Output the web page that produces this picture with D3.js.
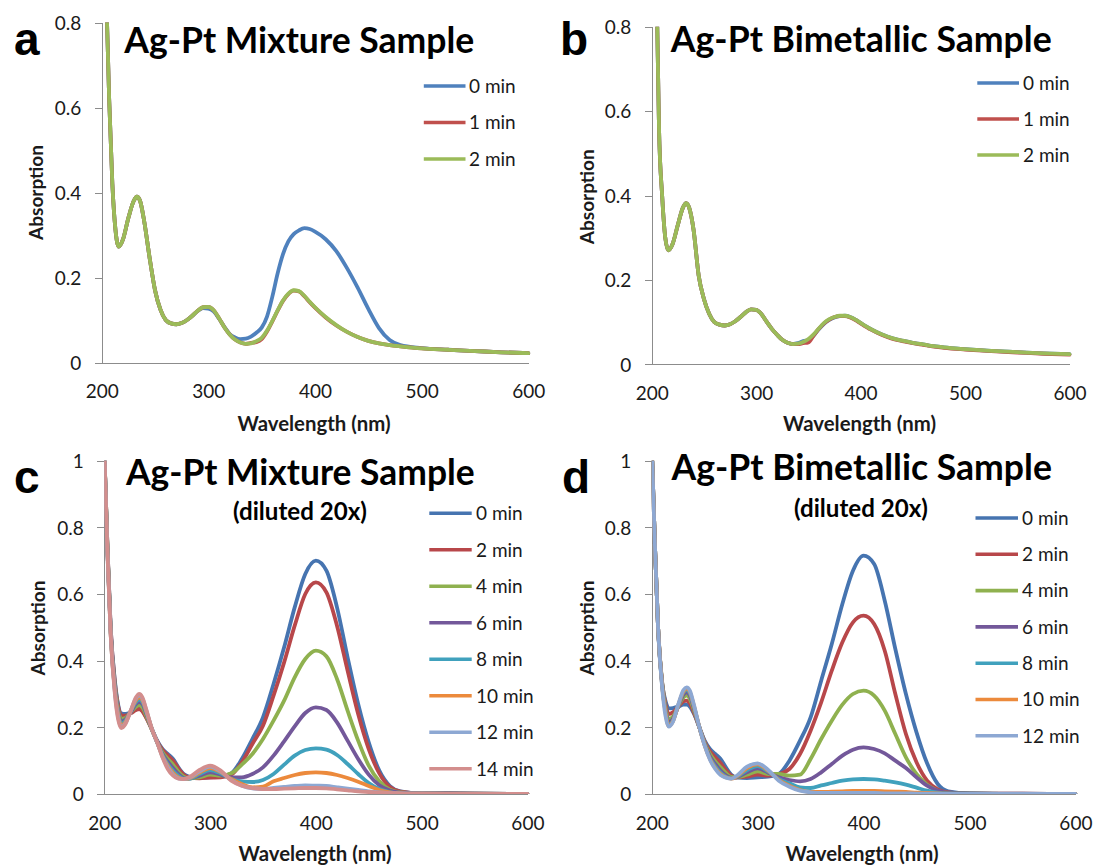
<!DOCTYPE html>
<html>
<head>
<meta charset="utf-8">
<script src="https://cdn.jsdelivr.net/npm/d3@7"></script>
<style>
  html, body { margin: 0; padding: 0; background: #ffffff; }
  svg { display: block; }
</style>
</head>
<body>
<svg id="fig" width="1096" height="868"></svg>
<script>
// ---------- Wavelength grids (nm) ----------
const wlAB = [200, 203, 205, 207, 210, 213, 216, 220, 225, 230,
              233, 236, 240, 245, 250, 255, 260, 265, 270, 275,
              280, 285, 290, 295, 300, 305, 310, 315, 320, 325,
              330, 335, 340, 345, 350, 355, 360, 365, 370, 375,
              380, 385, 390, 395, 400, 410, 420, 430, 440, 450,
              460, 470, 480, 500, 525, 550, 575, 600];

const wlCD = [200, 203, 206, 210, 213, 216, 220, 225, 230, 233,
              236, 240, 245, 250, 255, 260, 265, 270, 275, 280,
              290, 300, 310, 320, 330, 340, 350, 360, 370, 380,
              390, 400, 410, 420, 430, 440, 450, 460, 470, 480,
              500, 550, 600];

// ---------- (a) Ag-Pt mixture sample ----------
const aMin0 = [1.5, 1.0, 0.8, 0.62, 0.42, 0.31, 0.273, 0.29, 0.34, 0.38,
               0.39, 0.38, 0.33, 0.245, 0.17, 0.125, 0.1, 0.092, 0.09, 0.093,
               0.1, 0.11, 0.121, 0.128, 0.127, 0.12, 0.103, 0.084, 0.067, 0.059,
               0.055, 0.056, 0.061, 0.07, 0.082, 0.108, 0.155, 0.21, 0.255, 0.285,
               0.302, 0.311, 0.316, 0.314, 0.308, 0.29, 0.262, 0.222, 0.176, 0.126,
               0.081, 0.053, 0.041, 0.034, 0.03, 0.027, 0.024, 0.022];
const aMin1 = [1.5, 1.0, 0.8, 0.62, 0.42, 0.31, 0.273, 0.29, 0.34, 0.38,
               0.39, 0.38, 0.33, 0.245, 0.17, 0.125, 0.1, 0.092, 0.09, 0.093,
               0.1, 0.11, 0.122, 0.13, 0.131, 0.123, 0.104, 0.083, 0.066, 0.054,
               0.047, 0.044, 0.046, 0.048, 0.055, 0.073, 0.097, 0.122, 0.145, 0.161,
               0.169, 0.167, 0.156, 0.142, 0.129, 0.106, 0.087, 0.072, 0.06, 0.051,
               0.045, 0.041, 0.038, 0.033, 0.03, 0.027, 0.024, 0.022];
const aMin2 = [1.5, 1.0, 0.8, 0.62, 0.42, 0.31, 0.273, 0.29, 0.34, 0.38,
               0.39, 0.38, 0.33, 0.245, 0.17, 0.125, 0.1, 0.092, 0.09, 0.093,
               0.1, 0.11, 0.122, 0.13, 0.131, 0.123, 0.104, 0.083, 0.066, 0.054,
               0.047, 0.044, 0.045, 0.05, 0.058, 0.075, 0.098, 0.123, 0.146, 0.162,
               0.17, 0.168, 0.157, 0.143, 0.13, 0.107, 0.088, 0.072, 0.06, 0.051,
               0.045, 0.041, 0.038, 0.033, 0.03, 0.027, 0.024, 0.022];

// ---------- (b) Ag-Pt bimetallic sample ----------
const bMin0 = [1.5, 1.1, 0.85, 0.56, 0.4, 0.3, 0.27, 0.285, 0.33, 0.372,
               0.382, 0.37, 0.32, 0.21, 0.155, 0.12, 0.1, 0.094, 0.092, 0.095,
               0.102, 0.112, 0.123, 0.13, 0.129, 0.119, 0.101, 0.084, 0.07, 0.058,
               0.051, 0.048, 0.05, 0.055, 0.057, 0.068, 0.083, 0.096, 0.105, 0.111,
               0.114, 0.115, 0.112, 0.106, 0.098, 0.083, 0.071, 0.062, 0.056, 0.051,
               0.047, 0.043, 0.04, 0.036, 0.032, 0.029, 0.026, 0.024];
const bMin1 = [1.5, 1.1, 0.85, 0.56, 0.4, 0.3, 0.27, 0.285, 0.33, 0.372,
               0.382, 0.37, 0.32, 0.21, 0.155, 0.12, 0.1, 0.094, 0.092, 0.095,
               0.102, 0.112, 0.123, 0.13, 0.129, 0.119, 0.101, 0.084, 0.07, 0.058,
               0.051, 0.048, 0.048, 0.05, 0.052, 0.068, 0.084, 0.097, 0.106, 0.112,
               0.114, 0.114, 0.111, 0.105, 0.097, 0.082, 0.07, 0.061, 0.055, 0.05,
               0.046, 0.042, 0.039, 0.035, 0.031, 0.028, 0.025, 0.023];
const bMin2 = [1.5, 1.1, 0.85, 0.56, 0.4, 0.3, 0.27, 0.285, 0.33, 0.372,
               0.382, 0.37, 0.32, 0.21, 0.155, 0.12, 0.1, 0.094, 0.092, 0.095,
               0.102, 0.112, 0.123, 0.13, 0.129, 0.119, 0.101, 0.084, 0.07, 0.058,
               0.051, 0.048, 0.049, 0.053, 0.06, 0.071, 0.085, 0.098, 0.107, 0.112,
               0.115, 0.115, 0.112, 0.106, 0.098, 0.083, 0.071, 0.062, 0.056, 0.051,
               0.047, 0.043, 0.04, 0.036, 0.032, 0.029, 0.026, 0.024];

// ---------- (c) Ag-Pt mixture sample, diluted 20x ----------
const cMin0  = [1.03, 0.74, 0.5, 0.34, 0.27, 0.242, 0.24, 0.245, 0.254, 0.256,
                0.25, 0.228, 0.195, 0.16, 0.135, 0.12, 0.105, 0.08, 0.06, 0.052,
                0.048, 0.05, 0.052, 0.062, 0.105, 0.165, 0.23, 0.33, 0.44, 0.56,
                0.66, 0.70, 0.67, 0.56, 0.41, 0.27, 0.155, 0.07, 0.024, 0.008,
                0.002, 0.001, 0.0];
const cMin2  = [1.03, 0.74, 0.5, 0.335, 0.265, 0.236, 0.235, 0.242, 0.252, 0.255,
                0.248, 0.226, 0.193, 0.158, 0.132, 0.116, 0.1, 0.077, 0.058, 0.05,
                0.047, 0.049, 0.05, 0.058, 0.095, 0.15, 0.205, 0.295, 0.395, 0.505,
                0.6, 0.635, 0.605, 0.505, 0.37, 0.24, 0.135, 0.062, 0.021, 0.007,
                0.002, 0.001, 0.0];
const cMin4  = [1.03, 0.74, 0.49, 0.325, 0.255, 0.225, 0.228, 0.245, 0.262, 0.267,
                0.26, 0.232, 0.193, 0.155, 0.125, 0.105, 0.088, 0.067, 0.052, 0.047,
                0.05, 0.058, 0.055, 0.062, 0.088, 0.12, 0.165, 0.22, 0.28, 0.35,
                0.405, 0.43, 0.413, 0.345, 0.25, 0.16, 0.085, 0.038, 0.013, 0.005,
                0.002, 0.001, 0.0];
const cMin6  = [1.03, 0.73, 0.49, 0.32, 0.25, 0.218, 0.224, 0.245, 0.27, 0.276,
                0.27, 0.238, 0.194, 0.155, 0.12, 0.097, 0.078, 0.06, 0.048, 0.046,
                0.055, 0.065, 0.058, 0.05, 0.05, 0.06, 0.08, 0.115, 0.158, 0.203,
                0.243, 0.26, 0.252, 0.215, 0.16, 0.105, 0.058, 0.026, 0.01, 0.004,
                0.002, 0.001, 0.0];
const cMin8  = [1.03, 0.73, 0.49, 0.315, 0.245, 0.212, 0.22, 0.248, 0.276, 0.283,
                0.276, 0.242, 0.195, 0.155, 0.117, 0.09, 0.07, 0.055, 0.046, 0.046,
                0.06, 0.072, 0.062, 0.045, 0.038, 0.036, 0.042, 0.06, 0.088, 0.115,
                0.132, 0.137, 0.133, 0.117, 0.09, 0.06, 0.033, 0.015, 0.006, 0.002,
                0.001, 0.0, 0.0];
const cMin10 = [1.03, 0.73, 0.48, 0.31, 0.24, 0.206, 0.216, 0.25, 0.282, 0.29,
                0.282, 0.245, 0.195, 0.155, 0.114, 0.085, 0.064, 0.05, 0.045, 0.047,
                0.064, 0.078, 0.066, 0.045, 0.03, 0.02, 0.022, 0.038, 0.048, 0.057,
                0.063, 0.065, 0.063, 0.057, 0.048, 0.037, 0.024, 0.012, 0.005, 0.002,
                0.001, 0.0, 0.0];
const cMin12 = [1.03, 0.72, 0.48, 0.305, 0.232, 0.2, 0.212, 0.25, 0.287, 0.296,
                0.287, 0.248, 0.195, 0.155, 0.112, 0.08, 0.058, 0.047, 0.045, 0.048,
                0.068, 0.082, 0.068, 0.042, 0.025, 0.017, 0.015, 0.018, 0.021, 0.024,
                0.026, 0.025, 0.024, 0.02, 0.016, 0.012, 0.008, 0.005, 0.003, 0.002,
                0.001, 0.0, 0.0];
const cMin14 = [1.03, 0.72, 0.48, 0.3, 0.225, 0.198, 0.21, 0.25, 0.29, 0.3,
                0.29, 0.25, 0.195, 0.155, 0.11, 0.075, 0.055, 0.046, 0.045, 0.05,
                0.072, 0.085, 0.07, 0.04, 0.025, 0.018, 0.015, 0.015, 0.016, 0.017,
                0.018, 0.018, 0.017, 0.014, 0.011, 0.008, 0.006, 0.004, 0.003, 0.002,
                0.001, 0.0, 0.0];

// ---------- (d) Ag-Pt bimetallic sample, diluted 20x ----------
const dMin0  = [1.05, 0.75, 0.5, 0.33, 0.28, 0.257, 0.258, 0.262, 0.268, 0.268,
                0.262, 0.24, 0.2, 0.16, 0.135, 0.12, 0.105, 0.08, 0.058, 0.05,
                0.048, 0.05, 0.052, 0.06, 0.1, 0.16, 0.23, 0.34, 0.45, 0.57,
                0.67, 0.715, 0.69, 0.58, 0.435, 0.3, 0.185, 0.092, 0.03, 0.008,
                0.002, 0.001, 0.0];
const dMin2  = [1.05, 0.75, 0.5, 0.33, 0.27, 0.24, 0.245, 0.262, 0.278, 0.28,
                0.272, 0.243, 0.2, 0.157, 0.128, 0.11, 0.093, 0.072, 0.055, 0.05,
                0.052, 0.058, 0.055, 0.06, 0.075, 0.12, 0.19, 0.275, 0.37, 0.455,
                0.515, 0.535, 0.51, 0.43, 0.3, 0.18, 0.095, 0.04, 0.014, 0.005,
                0.002, 0.001, 0.0];
const dMin4  = [1.05, 0.75, 0.5, 0.33, 0.26, 0.225, 0.232, 0.262, 0.29, 0.295,
                0.285, 0.25, 0.2, 0.153, 0.12, 0.098, 0.08, 0.063, 0.051, 0.05,
                0.058, 0.068, 0.06, 0.06, 0.055, 0.058, 0.105, 0.165, 0.22, 0.268,
                0.3, 0.31, 0.295, 0.25, 0.18, 0.11, 0.06, 0.028, 0.01, 0.003,
                0.001, 0.0, 0.0];
const dMin6  = [1.05, 0.75, 0.5, 0.325, 0.255, 0.215, 0.225, 0.262, 0.298, 0.305,
                0.295, 0.256, 0.2, 0.15, 0.113, 0.09, 0.07, 0.056, 0.048, 0.05,
                0.065, 0.077, 0.064, 0.05, 0.042, 0.038, 0.045, 0.065, 0.09, 0.115,
                0.133, 0.14, 0.135, 0.122, 0.1, 0.078, 0.05, 0.025, 0.01, 0.003,
                0.001, 0.0, 0.0];
const dMin8  = [1.05, 0.75, 0.5, 0.32, 0.25, 0.208, 0.22, 0.265, 0.305, 0.312,
                0.302, 0.26, 0.2, 0.148, 0.108, 0.083, 0.064, 0.052, 0.047, 0.051,
                0.072, 0.084, 0.067, 0.045, 0.032, 0.02, 0.018, 0.026, 0.033, 0.04,
                0.044, 0.045, 0.044, 0.04, 0.035, 0.028, 0.019, 0.01, 0.004, 0.002,
                0.001, 0.0, 0.0];
const dMin10 = [1.05, 0.75, 0.5, 0.32, 0.245, 0.204, 0.218, 0.266, 0.308, 0.316,
                0.306, 0.263, 0.2, 0.146, 0.105, 0.078, 0.06, 0.05, 0.046, 0.052,
                0.078, 0.089, 0.07, 0.042, 0.025, 0.012, 0.006, 0.006, 0.007, 0.008,
                0.009, 0.009, 0.009, 0.008, 0.007, 0.006, 0.004, 0.003, 0.002, 0.001,
                0.0, 0.0, 0.0];
const dMin12 = [1.05, 0.75, 0.5, 0.315, 0.235, 0.202, 0.216, 0.268, 0.312, 0.32,
                0.31, 0.266, 0.2, 0.145, 0.103, 0.075, 0.057, 0.049, 0.046, 0.054,
                0.082, 0.092, 0.072, 0.04, 0.022, 0.01, 0.005, 0.003, 0.003, 0.003,
                0.003, 0.003, 0.003, 0.002, 0.002, 0.002, 0.001, 0.001, 0.001, 0.0,
                0.0, 0.0, 0.0];

// ---------- Labels and ticks ----------
const legendAB = ["0 min", "1 min", "2 min"];
const legendC  = ["0 min", "2 min", "4 min", "6 min", "8 min", "10 min", "12 min", "14 min"];
const legendD  = ["0 min", "2 min", "4 min", "6 min", "8 min", "10 min", "12 min"];
const xTicks   = [200, 300, 400, 500, 600];
const yTicksAB = [0, 0.2, 0.4, 0.6, 0.8];
const yTicksCD = [0, 0.2, 0.4, 0.6, 0.8, 1];

// Office-style series colours
const colorsAB = ["#4F81BD", "#C0504D", "#9BBB59"];
const colorsCD = ["#4674B0", "#B8474A", "#8FB14F", "#73589A", "#40A1BD", "#EC8A3C", "#8DA8D3", "#D38E8D"];

// ---------- Panel layout ----------
const panels = [
  { id: "a", title: "Ag-Pt Mixture Sample", sub: null,
    wl: wlAB, series: [aMin0, aMin1, aMin2], names: legendAB, colors: colorsAB,
    yMax: 0.8, yTicks: yTicksAB,
    x0: 101.7, x1: 528.3, y0: 362.5, yTop: 22.5,
    letterX: 14, letterY: 55,
    titleX: 124.3, titleY: 52.7, titleW: 350,
    yTitleX: 36.5, yTitleY: 192.5, xTitleX: 314, xTitleY: 430.5, xLabelY: 398,
    legX0: 423.8, legX1: 465.5, legTextX: 469, legY0: 86, legDY: 36.5 },
  { id: "b", title: "Ag-Pt Bimetallic Sample", sub: null,
    wl: wlAB, series: [bMin0, bMin1, bMin2], names: legendAB, colors: colorsAB,
    yMax: 0.8, yTicks: yTicksAB,
    x0: 651.7, x1: 1069.5, y0: 364.3, yTop: 26.7,
    letterX: 560, letterY: 55,
    titleX: 670.8, titleY: 52, titleW: 381,
    yTitleX: 587.3, yTitleY: 196.7, xTitleX: 859.6, xTitleY: 431, xLabelY: 400,
    legX0: 977.3, legX1: 1019, legTextX: 1023, legY0: 83, legDY: 36 },
  { id: "c", title: "Ag-Pt Mixture Sample", sub: "(diluted 20x)",
    wl: wlCD, series: [cMin0, cMin2, cMin4, cMin6, cMin8, cMin10, cMin12, cMin14],
    names: legendC, colors: colorsCD,
    yMax: 1, yTicks: yTicksCD,
    x0: 104.3, x1: 527.4, y0: 794, yTop: 460.7,
    letterX: 14, letterY: 493,
    titleX: 125.9, titleY: 485, titleW: 349,
    subX: 300, subY: 520, subW: 134,
    yTitleX: 38.8, yTitleY: 628, xTitleX: 315, xTitleY: 860.5, xLabelY: 829.5,
    legX0: 429.3, legX1: 471.7, legTextX: 476, legY0: 513.3, legDY: 36.5 },
  { id: "d", title: "Ag-Pt Bimetallic Sample", sub: "(diluted 20x)",
    wl: wlCD, series: [dMin0, dMin2, dMin4, dMin6, dMin8, dMin10, dMin12],
    names: legendD, colors: colorsCD,
    yMax: 1, yTicks: yTicksCD,
    x0: 651.7, x1: 1075.4, y0: 794, yTop: 460.7,
    letterX: 562, letterY: 493,
    titleX: 671.5, titleY: 480, titleW: 380.5,
    subX: 861, subY: 517, subW: 134,
    yTitleX: 587, yTitleY: 628, xTitleX: 862, xTitleY: 860.5, xLabelY: 829.5,
    legX0: 975.5, legX1: 1018, legTextX: 1022, legY0: 518, legDY: 36.3 }
];

const svg = d3.select("#fig");
const AXIS = "#8c8c8c";
const TEXT = "#1a1a1a";
const FONT = "Lato, 'Open Sans', sans-serif";

// Scale a text element's font size so its rendered width equals the given width
function fitWidth(sel, width) {
  const fs = parseFloat(sel.attr("font-size"));
  const len = sel.node().getComputedTextLength();
  if (len > 0) sel.attr("font-size", (fs * width / len).toFixed(2));
  return sel;
}

panels.forEach(p => {
  const g = svg.append("g").attr("class", "panel-" + p.id);
  const x = d3.scaleLinear().domain([200, 600]).range([p.x0, p.x1]);
  const y = d3.scaleLinear().domain([0, p.yMax]).range([p.y0, p.yTop]);

  // plot-area clip so the steep UV edge stops at the top of the axis
  const clipId = "clip-" + p.id;
  svg.append("clipPath").attr("id", clipId)
    .append("rect")
    .attr("x", p.x0).attr("y", p.yTop)
    .attr("width", p.x1 - p.x0 + 4).attr("height", p.y0 - p.yTop);

  // y axis
  const yAxis = d3.axisLeft(y)
    .tickValues(p.yTicks)
    .tickSize(7).tickSizeOuter(0).tickPadding(13.5)
    .tickFormat(d => d === 0 ? "0" : d3.format("~g")(d));
  const gy = g.append("g").attr("transform", `translate(${p.x0},0)`).call(yAxis);
  gy.select(".domain").attr("stroke", AXIS).attr("shape-rendering", "crispEdges");
  gy.selectAll(".tick line").attr("stroke", AXIS).attr("shape-rendering", "crispEdges");
  gy.selectAll(".tick text")
    .attr("fill", TEXT).attr("font-family", FONT).attr("font-size", 19)
    .attr("dy", "0.36em");

  // x axis (labels only, no tick marks)
  const xAxis = d3.axisBottom(x).tickValues(xTicks).tickSize(0).tickSizeOuter(0).tickFormat(d3.format("d"));
  const gx = g.append("g").attr("transform", `translate(0,${p.y0})`).call(xAxis);
  gx.select(".domain").attr("stroke", AXIS).attr("shape-rendering", "crispEdges");
  gx.selectAll(".tick text")
    .attr("fill", TEXT).attr("font-family", FONT).attr("font-size", 19)
    .attr("dy", null).attr("y", p.xLabelY - p.y0);

  // spectra
  const line = d3.line()
    .x(d => x(d[0])).y(d => y(d[1]))
    .curve(d3.curveMonotoneX);
  const lines = g.append("g").attr("clip-path", `url(#${clipId})`);
  p.series.forEach((vals, i) => {
    const pts = p.wl.map((w, k) => [w, vals[k]]);
    lines.append("path")
      .datum(pts)
      .attr("d", line)
      .attr("fill", "none")
      .attr("stroke", p.colors[i])
      .attr("stroke-width", 3.8)
      .attr("stroke-linejoin", "round")
      .attr("stroke-linecap", "round");
  });

  // legend
  const leg = g.append("g");
  p.names.forEach((name, i) => {
    const ly = p.legY0 + i * p.legDY;
    leg.append("line")
      .attr("x1", p.legX0).attr("x2", p.legX1)
      .attr("y1", ly).attr("y2", ly)
      .attr("stroke", p.colors[i]).attr("stroke-width", 3.6);
    leg.append("text")
      .attr("x", p.legTextX).attr("y", ly).attr("dy", "0.36em")
      .attr("font-family", FONT).attr("font-size", 19).attr("fill", TEXT)
      .text(name);
  });

  // axis titles
  const yt = g.append("text")
    .attr("transform", `translate(${p.yTitleX},${p.yTitleY}) rotate(-90)`)
    .attr("text-anchor", "middle").attr("dy", "0.35em")
    .attr("font-family", FONT).attr("font-weight", "bold").attr("font-size", 17)
    .attr("fill", TEXT).text("Absorption");
  fitWidth(yt, 95);

  const xt = g.append("text")
    .attr("x", p.xTitleX).attr("y", p.xTitleY)
    .attr("text-anchor", "middle")
    .attr("font-family", FONT).attr("font-weight", "bold").attr("font-size", 17)
    .attr("fill", TEXT).text("Wavelength (nm)");
  fitWidth(xt, 153);

  // chart title and optional subtitle
  const tt = g.append("text")
    .attr("x", p.titleX).attr("y", p.titleY)
    .attr("font-family", FONT).attr("font-weight", "bold").attr("font-size", 36)
    .attr("fill", "#000").text(p.title);
  fitWidth(tt, p.titleW);

  if (p.sub) {
    const st = g.append("text")
      .attr("x", p.subX).attr("y", p.subY).attr("text-anchor", "middle")
      .attr("font-family", FONT).attr("font-weight", "bold").attr("font-size", 20)
      .attr("fill", "#000").text(p.sub);
    fitWidth(st, p.subW);
  }

  // panel letter
  g.append("text")
    .attr("x", p.letterX).attr("y", p.letterY)
    .attr("font-family", "'Liberation Sans', Arial, sans-serif")
    .attr("font-weight", "bold").attr("font-size", 46)
    .attr("fill", "#000").text(p.id);
});
</script>
</body>
</html>
